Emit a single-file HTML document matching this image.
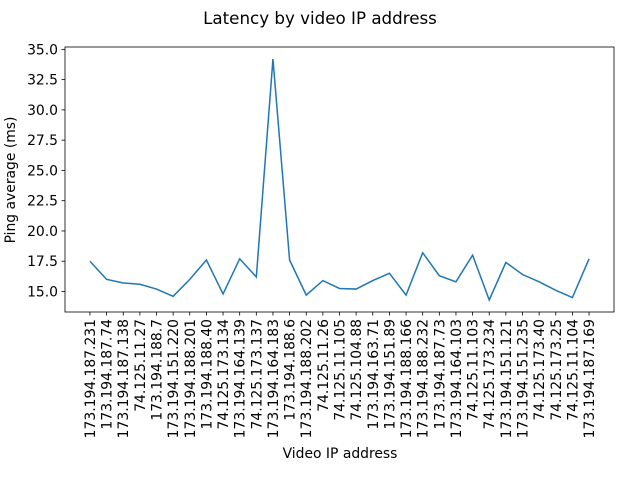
<!DOCTYPE html>
<html><head><meta charset="utf-8"><style>
html,body{margin:0;padding:0;background:#fff;}
svg{display:block;font-family:"DejaVu Sans","Liberation Sans",sans-serif;}
</style></head><body>
<svg id="chart" width="640" height="480" viewBox="0 0 640 480">
<rect width="640" height="480" fill="#fff"/>
<text x="320" y="24" text-anchor="middle" font-size="16.7">Latency by video IP address</text>
<g id="yticks"></g>
<g id="xticks"></g>
<path id="line" fill="none" stroke="#1f77b4" stroke-width="1.5"/>
<rect x="65" y="47" width="549" height="265" fill="none" stroke="#000" stroke-width="0.8"/>
<text x="340" y="458" text-anchor="middle" font-size="13.9">Video IP address</text>
<text transform="translate(15,180) rotate(-90)" text-anchor="middle" font-size="13.9">Ping average (ms)</text>
</svg>
<script>
const categories = ["173.194.187.231","173.194.187.74","173.194.187.138","74.125.11.27","173.194.188.7","173.194.151.220","173.194.188.201","173.194.188.40","74.125.173.134","173.194.164.139","74.125.173.137","173.194.164.183","173.194.188.6","173.194.188.202","74.125.11.26","74.125.11.105","74.125.104.88","173.194.163.71","173.194.151.89","173.194.188.166","173.194.188.232","173.194.187.73","173.194.164.103","74.125.11.103","74.125.173.234","173.194.151.121","173.194.151.235","74.125.173.40","74.125.173.25","74.125.11.104","173.194.187.169"];
const pingValues = [17.5,16.0,15.7,15.6,15.2,14.6,16.0,17.6,14.8,17.7,16.2,34.2,17.6,14.7,15.9,15.25,15.2,15.9,16.5,14.7,18.2,16.3,15.8,18.0,14.3,17.4,16.4,15.8,15.1,14.5,17.7];
const yTicks = [15.0,17.5,20.0,22.5,25.0,27.5,30.0,32.5,35.0];
const NS="http://www.w3.org/2000/svg";
const L=65,R=614,T=47,B=312;
const ymin=Math.min(...pingValues),ymax=Math.max(...pingValues),pad=(ymax-ymin)*0.05;
const y0=ymin-pad,y1=ymax+pad;
const n=categories.length,xpad=(n-1)*0.05;
function xs(i){return L+(i+xpad)/(n-1+2*xpad)*(R-L);}
function ys(v){return B-(v-y0)/(y1-y0)*(B-T);}
const yg=document.getElementById('yticks'),xg=document.getElementById('xticks');
yTicks.forEach(t=>{
  const y=ys(t);
  const ln=document.createElementNS(NS,'line');
  ln.setAttribute('x1',L-3.5);ln.setAttribute('x2',L);ln.setAttribute('y1',y);ln.setAttribute('y2',y);ln.setAttribute('stroke','#000');ln.setAttribute('stroke-width','0.8');
  
  
  yg.appendChild(ln);
  const tx=document.createElementNS(NS,'text');
  tx.setAttribute('x',L-7);tx.setAttribute('y',y+5);tx.setAttribute('text-anchor','end');tx.setAttribute('font-size','13.9');
  tx.textContent=t.toFixed(1);
  
  
  yg.appendChild(tx);
});
categories.forEach((c,i)=>{
  const x=xs(i);
  const ln=document.createElementNS(NS,'line');
  ln.setAttribute('x1',x);ln.setAttribute('x2',x);ln.setAttribute('y1',B);ln.setAttribute('y2',B+3.5);ln.setAttribute('stroke','#000');ln.setAttribute('stroke-width','0.8');
  
  
  xg.appendChild(ln);
  const tx=document.createElementNS(NS,'text');
  tx.setAttribute('transform','translate('+(x+5)+','+(B+7)+') rotate(-90)');
  tx.setAttribute('text-anchor','end');tx.setAttribute('font-size','13.9');
  tx.textContent=c;
  
  
  xg.appendChild(tx);
});
document.getElementById('line').setAttribute('d',pingValues.map((v,i)=>(i?'L':'M')+xs(i).toFixed(2)+','+ys(v).toFixed(2)).join(''));
</script>
</body></html>
